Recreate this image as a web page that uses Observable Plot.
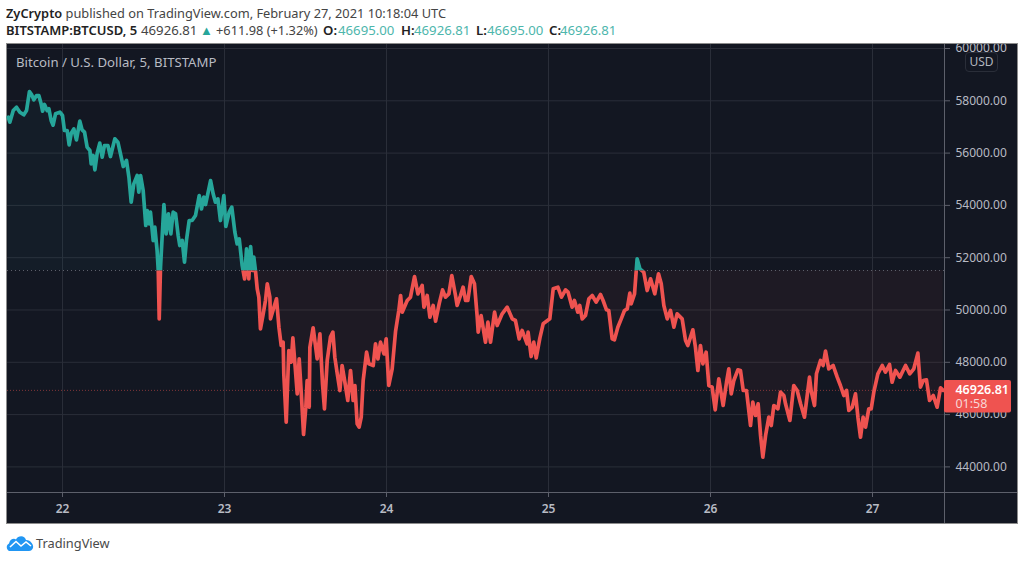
<!DOCTYPE html>
<html><head><meta charset="utf-8">
<script src="https://cdn.jsdelivr.net/npm/d3@7"></script>
<script src="https://cdn.jsdelivr.net/npm/@observablehq/plot@0.6"></script>
<style>
html,body{margin:0;padding:0;background:#fff;width:1024px;height:561px;overflow:hidden;font-family:"Noto Sans",sans-serif}
.abs{position:absolute;white-space:nowrap}
#panel{left:6px;top:43px;width:1010px;height:479px;background:#131722;border:1px solid #8c8c8c;border-width:1px}
#chart{left:0;top:44px}
#chart svg{display:block;background:transparent}
.h{font-size:13.2px;color:#444;line-height:16px}
.h b{color:#222;font-weight:600}
.t{color:#4db6ac}
</style></head><body>
<div class="abs h" style="left:6px;top:5px;font-size:12.8px"><b>ZyCrypto</b> published on TradingView.com, February 27, 2021 10:18:04 UTC</div>
<div class="abs h" style="left:6px;top:22px;font-size:13px"><b>BITSTAMP:BTCUSD, 5</b></div>
<div class="abs h" style="left:141px;top:22px">46926.81</div>
<div class="abs h" style="left:200px;top:22px;color:#26a69a;font-size:13px">▲</div>
<div class="abs h" style="left:216px;top:22px;font-size:12.8px">+611.98 (+1.32%)</div>
<div class="abs h" style="left:323px;top:22px"><b>O:</b></div><div class="abs h t" style="left:338px;top:22px">46695.00</div>
<div class="abs h" style="left:401px;top:22px"><b>H:</b></div><div class="abs h t" style="left:414px;top:22px">46926.81</div>
<div class="abs h" style="left:476px;top:22px"><b>L:</b></div><div class="abs h t" style="left:487px;top:22px">46695.00</div>
<div class="abs h" style="left:549px;top:22px"><b>C:</b></div><div class="abs h t" style="left:560px;top:22px">46926.81</div>
<div id="panel" class="abs"></div>
<div id="chart" class="abs"></div>
<div class="abs" style="left:16px;top:53px;font-size:13.2px;color:#b8bbc4">Bitcoin / U.S. Dollar, 5, BITSTAMP</div>
<div class="abs" style="left:965px;top:52px;width:31px;height:18px;line-height:18px;text-align:center;background:#131722;border:1px solid #2a2e39;border-radius:4px;font-size:12px;color:#b2b5be">USD</div>
<svg class="abs" style="left:6px;top:534px" width="28" height="18" viewBox="0 0 28 18"><path d="M3 17C0 15 0 11 3 9.500C4 5 8 4 10 5.500C12 1 19 1 20 6C25 6 28 11 27 14C26 16 25 17 23 17Z" fill="#2196f3"/><path d="M4 13L10 7.500L15 12L20 8L25 12" fill="none" stroke="#fff" stroke-width="1.600"/></svg>
<div class="abs" style="left:36px;top:534px;font-size:12.8px;color:#4a4a4a">TradingView</div>
<script>
const days=[21.665,21.675,21.696,21.716,21.737,21.761,21.778,21.796,21.809,21.823,21.840,21.854,21.868,21.877,21.889,21.905,21.916,21.930,21.942,21.957,21.984,22.000,22.012,22.029,22.041,22.054,22.070,22.086,22.107,22.121,22.136,22.152,22.169,22.177,22.189,22.200,22.214,22.230,22.245,22.259,22.280,22.296,22.323,22.342,22.358,22.375,22.395,22.410,22.424,22.440,22.461,22.471,22.482,22.498,22.514,22.523,22.535,22.543,22.560,22.570,22.584,22.591,22.597,22.605,22.626,22.640,22.654,22.669,22.683,22.698,22.714,22.724,22.739,22.753,22.765,22.782,22.800,22.821,22.844,22.858,22.872,22.883,22.914,22.930,22.944,22.959,22.975,22.996,23.008,23.029,23.045,23.064,23.078,23.091,23.109,23.124,23.136,23.150,23.161,23.173,23.181,23.191,23.202,23.212,23.222,23.239,23.253,23.264,23.280,23.284,23.305,23.321,23.336,23.350,23.362,23.366,23.381,23.397,23.412,23.422,23.434,23.449,23.461,23.473,23.488,23.502,23.510,23.523,23.527,23.547,23.560,23.572,23.589,23.605,23.617,23.634,23.654,23.669,23.681,23.696,23.712,23.726,23.743,23.761,23.778,23.794,23.805,23.819,23.831,23.844,23.856,23.877,23.891,23.918,23.932,23.947,23.963,23.984,23.998,24.014,24.035,24.056,24.076,24.087,24.097,24.128,24.148,24.173,24.194,24.220,24.231,24.251,24.268,24.288,24.303,24.325,24.346,24.364,24.385,24.403,24.426,24.436,24.457,24.473,24.488,24.502,24.523,24.543,24.560,24.566,24.584,24.611,24.626,24.642,24.667,24.683,24.714,24.745,24.776,24.796,24.819,24.837,24.868,24.874,24.893,24.909,24.924,24.947,24.967,25.008,25.029,25.058,25.080,25.105,25.121,25.146,25.160,25.181,25.193,25.208,25.228,25.249,25.270,25.294,25.321,25.337,25.358,25.372,25.393,25.407,25.428,25.449,25.469,25.486,25.502,25.510,25.531,25.547,25.564,25.588,25.609,25.630,25.656,25.679,25.696,25.712,25.733,25.753,25.774,25.794,25.825,25.846,25.860,25.891,25.907,25.922,25.938,25.953,25.973,25.990,26.010,26.029,26.051,26.078,26.099,26.113,26.128,26.144,26.169,26.185,26.202,26.222,26.247,26.261,26.278,26.294,26.309,26.323,26.340,26.360,26.375,26.391,26.416,26.432,26.453,26.463,26.490,26.514,26.535,26.556,26.580,26.611,26.621,26.642,26.654,26.679,26.695,26.710,26.730,26.757,26.782,26.802,26.823,26.840,26.854,26.875,26.895,26.910,26.926,26.942,26.957,26.977,26.992,27.008,27.033,27.060,27.080,27.105,27.121,27.142,27.169,27.204,27.230,27.255,27.280,27.296,27.313,27.333,27.352,27.375,27.399,27.420,27.436];
const prices=[57374,57183,57629,57756,57565,57463,57629,58355,58241,58037,58202,58202,57884,57603,57858,57629,57693,57246,57068,57501,57565,57438,56864,56864,56316,56762,56928,56507,57221,56889,56800,56227,56099,55589,55908,55360,55997,56380,55844,56290,56290,55870,56545,56418,55972,55487,55717,55079,54123,54824,55143,54506,55143,54569,53231,53805,53295,53741,52657,53167,52275,51510,49662,51638,54034,52912,53677,52912,53741,53677,52848,52466,52657,51829,52657,53422,53422,53613,54378,53868,54315,54034,54952,54442,54123,54251,53422,54378,53193,53741,53932,52976,52530,52721,51701,51192,52339,51192,52428,51510,52020,51510,50809,50490,49279,49853,50363,51000,50490,49662,50108,50427,49343,48642,48770,47559,45710,48451,48005,48935,48005,46794,48132,46921,45239,46284,47304,46284,48578,49318,48706,48132,49088,47176,46220,48068,48961,49152,48196,47559,46921,47877,47240,46539,47686,46539,47113,45647,45519,45902,47304,48387,47941,47877,48706,48132,48770,48323,48897,47113,47750,49190,49981,50554,49917,50363,50490,51281,50618,50937,50108,50554,49726,50172,49573,50235,50771,50490,50618,51319,50554,50172,50554,50873,50363,50363,51281,51000,49726,49152,49789,48770,49534,48770,49917,49407,49853,50108,49662,49598,48897,49216,48706,49152,48221,48770,48170,48935,49471,49662,50809,50873,50490,50771,50682,50108,50363,49917,50172,49662,49789,50427,50554,50299,50592,50363,50006,49981,48897,48859,49343,49662,49981,50044,50643,50235,50618,51956,51574,51446,50745,51191,50618,51383,51000,50172,49662,49981,49343,49853,49662,48833,48642,49241,48578,47686,48642,47941,48387,47113,47049,46182,47367,46348,47240,47750,46794,47304,47712,47687,46922,46922,45583,46476,45966,46412,45201,44372,45201,45902,45583,46348,46221,46858,46731,46412,45775,47113,46922,46412,45902,47432,46922,46348,47559,48069,47878,48426,47751,47878,47432,47113,46731,46922,46157,46285,46794,45902,45137,45902,45520,46221,46221,46858,47559,47878,47623,47916,47241,47687,47432,47878,47559,47751,48350,47049,47304,47330,46540,46731,46285,47024,46926.81];
const priceTicks=[44000,46000,48000,50000,52000,54000,56000,58000,60000];
const dayTicks=[22,23,24,25,26,27];
const baseline=51510, lastPrice=46926.81, countdown="01:58";
const UP="#26a69a", DOWN="#ef5350", GRID="#2a2e39", EDGE="#5d606b", BG="#131722", LABEL="#b8bbc4";
const xDomain=[21.6605,27.4444], yDomain=[43021,60153];
const series=days.map((d,i)=>({day:d,price:prices[i]}));

// Keep a mark only on one side of the baseline price.
const side=(above)=>function(index,scales,values,dimensions,context,next){
  const g=next(index,scales,values,dimensions,context);
  const doc=context.document, ns="http://www.w3.org/2000/svg";
  const id="clip-"+(above?"a":"b")+Math.random().toString(36).slice(2);
  const cp=doc.createElementNS(ns,"clipPath"); cp.setAttribute("id",id);
  const r=doc.createElementNS(ns,"rect"), yb=scales.y(baseline);
  r.setAttribute("x",0); r.setAttribute("width",dimensions.width);
  r.setAttribute("y",above?0:yb); r.setAttribute("height",above?yb:dimensions.height-yb);
  cp.appendChild(r); g.appendChild(cp);
  g.setAttribute("clip-path",`url(#${id})`);
  return g;
};
const plot=Plot.plot({
  width:1024,height:479,marginLeft:7,marginRight:80,marginTop:0,marginBottom:31,
  style:{background:"transparent",fontFamily:"'Noto Sans',sans-serif",fontSize:"12px",overflow:"hidden"},
  x:{domain:xDomain,label:null},
  y:{domain:yDomain,label:null},
  marks:[
    Plot.gridY(priceTicks,{stroke:GRID,strokeOpacity:1}),
    Plot.gridX(dayTicks,{stroke:GRID,strokeOpacity:1}),
    Plot.areaY(series,{x:"day",y1:()=>baseline,y2:"price",fill:UP,fillOpacity:0.05,render:side(true)}),
    Plot.areaY(series,{x:"day",y1:()=>baseline,y2:"price",fill:DOWN,fillOpacity:0.055,render:side(false)}),
    Plot.ruleY([baseline],{stroke:EDGE,strokeDasharray:"1,3"}),
    Plot.ruleY([lastPrice],{stroke:DOWN,strokeOpacity:0.5,strokeDasharray:"1,2"}),
    Plot.line(series,{x:"day",y:"price",stroke:UP,strokeWidth:3.7,curve:"linear",render:side(true)}),
    Plot.line(series,{x:"day",y:"price",stroke:DOWN,strokeWidth:3.7,curve:"linear",render:side(false)}),
    Plot.axisY(priceTicks,{anchor:"right",tickSize:5,tickPadding:6,tickFormat:d=>d.toFixed(2),label:null,stroke:EDGE,fill:LABEL}),
    Plot.axisX(dayTicks,{anchor:"bottom",tickSize:5,tickPadding:7,tickFormat:d=>String(d),label:null,stroke:EDGE,fill:LABEL,fontWeight:600}),
    Plot.ruleY([yDomain[0]],{x1:xDomain[0],x2:27.895,stroke:EDGE}),
    Plot.ruleX([xDomain[1]],{y1:41836,y2:yDomain[1],stroke:EDGE}),
    Plot.rect([lastPrice],{x1:xDomain[1],x2:27.858,y1:46060,y2:47304,fill:DOWN,rx:2}),
    Plot.text([lastPrice],{x:27.512,y:d=>d,text:d=>d.toFixed(2),textAnchor:"start",fill:"#fff",fontSize:12.5,fontWeight:600}),
    Plot.text([lastPrice],{x:27.512,y:d=>d,dy:14,text:()=>countdown,textAnchor:"start",fill:"#f8d7d6",fontSize:12.5})
  ]
});
document.getElementById("chart").appendChild(plot);
</script>
</body></html>
